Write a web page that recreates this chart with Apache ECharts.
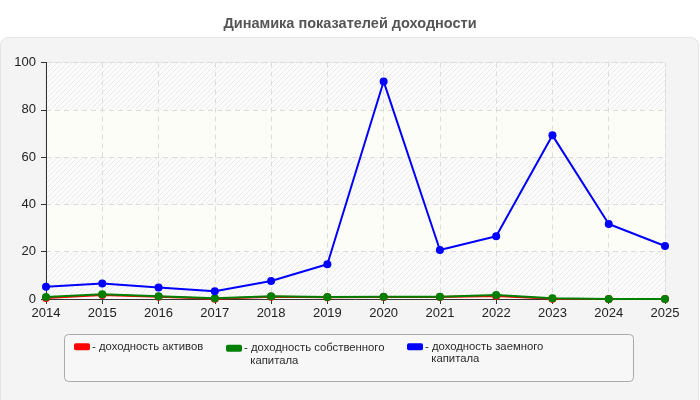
<!DOCTYPE html>
<html>
<head>
<meta charset="utf-8">
<script src="https://cdn.jsdelivr.net/npm/echarts@6/dist/echarts.min.js"></script>
<style>
    html, body {margin: 0; padding: 0; background: #fff;}
    #chart {width: 700px; height: 400px;}
</style>
</head>
<body>
<div id="chart"></div>
<script>
    const years = ['2014', '2015', '2016', '2017', '2018', '2019', '2020', '2021', '2022', '2023', '2024', '2025'];
    const assetsReturn = [0.4, 1.7, 1.0, 0.1, 1.0, 0.7, 0.8, 0.8, 1.3, 0.1, 0, 0];
    const equityReturn = [0.8, 2.0, 1.2, 0.3, 1.2, 0.8, 0.9, 0.9, 1.7, 0.3, 0.05, 0.05];
    const debtReturn = [5.2, 6.6, 4.9, 3.3, 7.6, 14.7, 92, 20.7, 26.5, 69.2, 31.7, 22.4];
    const seriesNames = ['доходность активов', 'доходность собственного\nкапитала', 'доходность заемного\nкапитала'];
    const seriesColors = ['#ff0000', '#008000', '#0000ff'];

    // hatched band fill
    const hatch = document.createElement('canvas');
    hatch.width = 5;
    hatch.height = 5;
    const hctx = hatch.getContext('2d');
    hctx.fillStyle = '#fbfbfb';
    hctx.fillRect(0, 0, 5, 5);
    hctx.strokeStyle = '#ebebeb';
    hctx.lineWidth = 1;
    hctx.beginPath();
    hctx.moveTo(-1, 6);
    hctx.lineTo(6, -1);
    hctx.moveTo(-1, 1);
    hctx.lineTo(1, -1);
    hctx.moveTo(4, 6);
    hctx.lineTo(6, 4);
    hctx.stroke();

    const chart = echarts.init(document.getElementById('chart'));

    // icon centre in the reference: ~347, 349, 347.5
    const legendLefts = [74, 226, 407];
    const legendTops = [340.5, 329.5, 328];
    const legends = seriesNames.map(function (name, i) {
        return {
            data: [name],
            left: legendLefts[i],
            top: legendTops[i],
            orient: 'horizontal',
            icon: 'roundRect',
            itemWidth: 16,
            itemHeight: 7,
            itemGap: 0,
            padding: 0,
            selectedMode: false,
            formatter: function (n) {
                const lines = n.split('\n');
                if (lines.length === 1) {
                    return '- ' + lines[0];
                }
                // blank first line keeps the first text line level with the icon
                return '\n- ' + lines[0] + '\n  ' + lines[1];
            },
            textStyle: {
                fontFamily: 'Liberation Sans, Arial, sans-serif',
                fontSize: 11.3,
                color: '#2a2a2a',
                lineHeight: 12.5,
                padding: [0, 0, 0, -3]
            }
        };
    });

    const values = [assetsReturn, equityReturn, debtReturn];
    const seriesList = values.map(function (data, i) {
        return {
            name: seriesNames[i],
            type: 'line',
            data: data,
            symbol: 'circle',
            symbolSize: 8,
            color: seriesColors[i],
            lineStyle: {width: 2, color: seriesColors[i]},
            itemStyle: {color: seriesColors[i]},
            animation: false
        };
    });

    const option = {
        animation: false,
        backgroundColor: '#fff',
        title: {
            text: 'Динамика показателей доходности',
            left: 'center',
            top: 11,
            textStyle: {
                fontFamily: 'Liberation Sans, Arial, sans-serif',
                fontSize: 14.5,
                fontWeight: 'bold',
                color: '#555'
            }
        },
        graphic: [
            {
                type: 'rect',
                z: -10,
                silent: true,
                shape: {x: 0.5, y: 37.5, width: 698, height: 380, r: 8},
                style: {fill: '#f4f4f4', stroke: '#e4e4e4', lineWidth: 1}
            },
            {
                type: 'rect',
                z: -5,
                silent: true,
                shape: {x: 64.5, y: 334.5, width: 569, height: 47, r: 4},
                style: {fill: '#f7f7f7', stroke: '#aaa', lineWidth: 1}
            }
        ],
        legend: legends,
        grid: {
            left: 46,
            right: 35,
            top: 62.5,
            bottom: 101,
            show: true,
            borderColor: '#ddd',
            borderWidth: 1,
            backgroundColor: 'transparent',
            containLabel: false
        },
        xAxis: {
            type: 'category',
            data: years,
            boundaryGap: false,
            axisLine: {lineStyle: {color: '#333', width: 1}},
            axisTick: {show: true, length: 5, lineStyle: {color: '#333'}},
            axisLabel: {
                fontFamily: 'Liberation Sans, Arial, sans-serif',
                fontSize: 13,
                color: '#222',
                margin: 8,
                interval: 0
            },
            splitLine: {show: true, lineStyle: {color: '#dcdcdc', type: [5, 4]}}
        },
        yAxis: {
            type: 'value',
            min: 0,
            max: 100,
            interval: 20,
            axisLine: {show: true, lineStyle: {color: '#333', width: 1}},
            axisTick: {show: true, length: 5, lineStyle: {color: '#333'}},
            axisLabel: {
                fontFamily: 'Liberation Sans, Arial, sans-serif',
                fontSize: 13,
                color: '#222',
                margin: 10
            },
            splitLine: {show: true, lineStyle: {color: '#dcdcdc', type: [5, 4]}},
            splitArea: {
                show: true,
                areaStyle: {
                    color: [{image: hatch, repeat: 'repeat'}, '#fdfdf8']
                }
            }
        },
        series: seriesList
    };

    chart.setOption(option);
</script>
</body>
</html>
